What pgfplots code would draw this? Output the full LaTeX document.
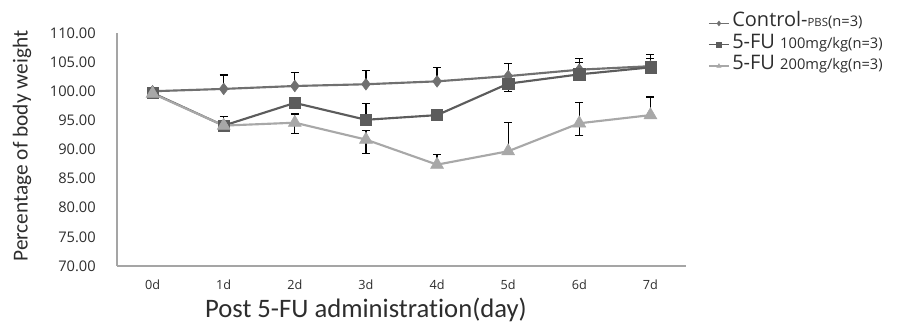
\documentclass[border=0pt]{standalone}
\usepackage{fontspec}
\setmainfont{Open Sans}
\newfontfamily\carlito[Ligatures={NoCommon,NoRequired,NoContextual}]{Carlito}
\usepackage{pgfplots}
\pgfplotsset{compat=1.18}
\definecolor{cctrl}{RGB}{112,112,112}
\definecolor{cmid}{RGB}{92,92,92}
\definecolor{clight}{RGB}{168,168,168}
\definecolor{axgray}{RGB}{165,165,165}
\definecolor{txt}{RGB}{45,45,45}
\begin{document}
\begin{tikzpicture}
\path[use as bounding box] (0,0) rectangle (678pt,245.25pt);
\begin{axis}[
 at={(87.75pt,45.75pt)}, anchor=south west,
 scale only axis, width=426.75pt, height=174.75pt,
 xmin=-0.5, xmax=7.5, ymin=70, ymax=110,
 axis x line=bottom, axis y line=left,
 axis line style={-, axgray, line width=1pt},
 xtick={0,1,2,3,4,5,6,7}, xticklabels={0d,1d,2d,3d,4d,5d,6d,7d},
 ytick={70,75,80,85,90,95,100,105,110},
 yticklabels={70.00,75.00,80.00,85.00,90.00,95.00,100.00,105.00,110.00},
 major tick length=0pt,
 xticklabel style={font=\fontsize{9.5}{10}\selectfont, text=txt, anchor=center, yshift=-14.25pt},
 yticklabel style={font=\fontsize{11}{12}\selectfont, text=txt, anchor=east, inner xsep=0pt, xshift=-15.75pt},
 xlabel={Post 5-FU administration(day)},
 xlabel style={font=\carlito\fontsize{20}{24}\selectfont, text=txt, at={(axis description cs:0.4376,-0.1888)}, anchor=center},
 ylabel={Percentage of body weight},
 ylabel style={font=\carlito\fontsize{16}{19}\selectfont, text=txt, at={(axis description cs:-0.167,0.515)}, anchor=center},
 clip=false,
 legend style={draw=none, fill=none, at={(axis description cs:1.0387,1.088)}, anchor=north west,
   inner sep=0pt, row sep=0pt, font=\fontsize{15}{16}\selectfont, text=txt,
   nodes={inner ysep=0pt, inner xsep=2pt, text height=10.5pt, text depth=5.5pt}},
 legend cell align=left,
 legend image code/.code={\draw[mark repeat=2,mark phase=2,#1] plot coordinates {(0pt,0pt) (7.5pt,0pt) (15pt,0pt)};},
 legend image post style={mark size=1.8pt, line width=1pt},
 every axis plot/.append style={line width=1.6pt},
]
\addplot[cctrl, mark=diamond*, mark size=4.4pt, mark options={solid, fill=cctrl, draw=cctrl, line width=0.4pt},
 error bars/.cd, y dir=plus, y explicit,
 error bar style={draw=black, line width=0.9pt},
 error mark options={draw=black, rotate=90, mark size=3pt, line width=0.9pt}]
 coordinates {(0,100) +- (0,0) (1,100.4) +- (0,2.4) (2,100.9) +- (0,2.3) (3,101.2) +- (0,2.3)
  (4,101.7) +- (0,2.4) (5,102.6) +- (0,2.2) (6,103.7) +- (0,1.9) (7,104.3) +- (0,2.0)};
\addlegendentry{Control-{\fontsize{8.5}{10}\selectfont PBS}{\fontsize{11}{12}\selectfont (n=3)}}
\addplot[cmid, mark=square*, mark size=4.2pt, mark options={solid, fill=cmid, draw=cmid, line width=0.4pt},
 error bars/.cd, y dir=plus, y explicit,
 error bar style={draw=black, line width=0.9pt},
 error mark options={draw=black, rotate=90, mark size=3pt, line width=0.9pt}]
 coordinates {(0,99.7) +- (0,0) (1,94.1) +- (0,0) (2,98.0) +- (0,0.6) (3,95.1) +- (0,2.8)
  (4,95.9) +- (0,1.0) (5,101.3) +- (0,0.8) (6,102.9) +- (0,2.0) (7,104.1) +- (0,1.5)};
\addlegendentry{5-FU {\fontsize{11}{12}\selectfont 100mg/kg(n=3)}}
\addplot[clight, mark=triangle*, mark size=5.6pt, mark options={solid, fill=clight, draw=clight, line width=0.4pt},
 error bars/.cd, y dir=plus, y explicit,
 error bar style={draw=black, line width=0.9pt},
 error mark options={draw=black, rotate=90, mark size=3pt, line width=0.9pt}]
 coordinates {(0,99.6) +- (0,0) (1,94.1) +- (0,1.5) (2,94.6) +- (0,1.5) (3,91.7) +- (0,1.5)
  (4,87.4) +- (0,1.8) (5,89.7) +- (0,5.0) (6,94.5) +- (0,3.5) (7,95.9) +- (0,3.1)};
\addlegendentry{5-FU {\fontsize{11}{12}\selectfont 200mg/kg(n=3)}}
\addplot[forget plot, draw=none, mark=none,
 error bars/.cd, y dir=minus, y explicit,
 error bar style={draw=black, line width=0.9pt},
 error mark options={draw=black, rotate=90, mark size=3pt, line width=0.9pt}]
 coordinates {(2,94.6) +- (0,1.8) (3,91.7) +- (0,2.4) (6,94.5) +- (0,2.1) (5,101.3) +- (0,1.3)};
\end{axis}
\end{tikzpicture}
\end{document}
